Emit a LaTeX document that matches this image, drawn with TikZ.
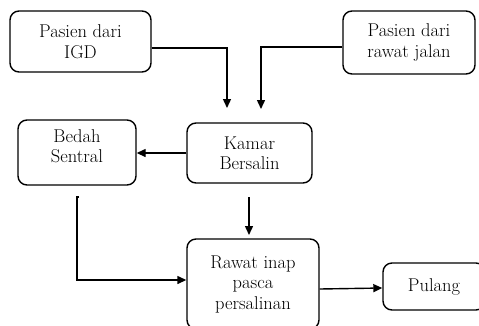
\documentclass[tikz,border=0pt]{standalone}
\usetikzlibrary{arrows.meta}
\begin{document}
\begin{tikzpicture}[x=1pt,y=-1pt,
  box/.style={draw, line width=1.4pt, rounded corners=9pt, align=center, inner sep=0pt,
    font=\fontsize{18.5}{20.5}\selectfont},
  txt/.style={align=center, inner sep=0pt, font=\fontsize{18.5}{20.5}\selectfont},
  arr/.style={line width=1.4pt, -{Triangle[length=9pt,width=8pt]}},
  ln/.style={line width=1.4pt}]
\useasboundingbox (0,0) rectangle (479,325);
\node[box, minimum width=141, minimum height=61] (igd) at (80.5,41.5) {Pasien dari\\IGD};
\node[box, minimum width=132, minimum height=63] (rj) at (409,42.5) {Pasien dari\\rawat jalan};
\node[box, minimum width=118, minimum height=65] (bedah) at (77,152.5) {};
\node[txt] (bedahtxt) at (77,146) {Bedah\\Sentral};
\node[box, minimum width=125, minimum height=60] (kamar) at (249.5,153) {Kamar\\Bersalin};
\node[box, minimum width=132, minimum height=90] (rawat) at (253,284) {Rawat inap\\pasca\\persalinan};
\node[box, minimum width=102, minimum height=47] (pulang) at (434,286.5) {Pulang};
\coordinate (k1) at (227,108);
\coordinate (k2) at (261,109);
\coordinate (k3) at (249,197);
\coordinate (k4) at (249,235);
\coordinate (b1) at (79,197);
\coordinate (b2) at (77,197);
\draw[arr] (igd.east |- 0,48) -| (k1);
\draw[arr] (rj.west |- 0,47) -| (k2);
\draw[arr] (kamar.west) -- (kamar.west -| bedah.east);
\draw[arr] (k3) -- (k4);
\draw[arr] (b1) -- (b2) |- (rawat.west |- 0,280);
\draw[arr] (rawat.east |- 0,289) -- (pulang.west |- 0,288);
\end{tikzpicture}
\end{document}
